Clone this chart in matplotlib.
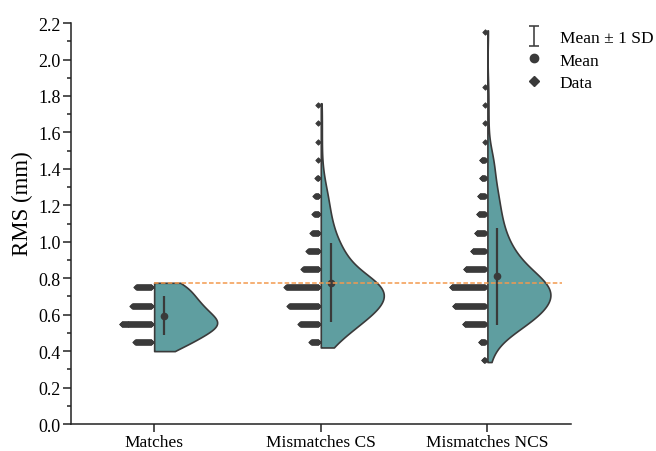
import numpy as np
import matplotlib.pyplot as plt
from matplotlib.lines import Line2D
from matplotlib.path import Path
from matplotlib.ticker import AutoMinorLocator, FormatStrFormatter

plt.rcParams['font.family'] = ['Liberation Serif', 'DejaVu Serif']

# categories
groups = ['Matches', 'Mismatches CS', 'Mismatches NCS']

# binned data points (bin centre, count) per group
bins_matches = [0.45, 0.55, 0.65, 0.75]
counts_matches = [33, 61, 39, 31]

bins_cs = [0.45, 0.55, 0.65, 0.75, 0.85, 0.95, 1.05, 1.15, 1.25, 1.35, 1.45, 1.55, 1.65, 1.75]
counts_cs = [15, 37, 59, 65, 31, 21, 13, 9, 7, 3, 1, 1, 1, 1]

bins_ncs = [0.35, 0.45, 0.55, 0.65, 0.75, 0.85, 0.95, 1.05, 1.15, 1.25, 1.35, 1.45,
            1.55, 1.65, 1.75, 1.85, 1.95, 2.05, 2.15]
counts_ncs = [3, 9, 41, 61, 67, 39, 25, 17, 13, 11, 7, 7, 1, 1, 1, 1, 0, 0, 1]

# data range (min / max) of each group
data_min = [0.40, 0.42, 0.34]
data_max = [0.775, 1.76, 2.16]

# summary statistics
means = [0.595, 0.775, 0.81]
sds = [0.105, 0.216, 0.265]

threshold = 0.775

all_bins = [bins_matches, bins_cs, bins_ncs]
all_counts = [counts_matches, counts_cs, counts_ncs]
bandwidths = [0.06, 0.075, 0.08]

teal = '#5F9EA0'
dark = '#3a3a3a'

fig = plt.figure(figsize=(6.56, 4.52), dpi=100)
ax = fig.add_axes([0.108, 0.0597, 0.762, 0.887])

half_w = 0.378
step = 0.003

for i, g in enumerate(groups):
    pos = i + 1
    b = np.array(all_bins[i])
    c = np.array(all_counts[i])

    # data points stacked to the left
    for yb, n in zip(b, c):
        if n == 0:
            continue
        xs = pos - 0.016 - np.arange(n) * step
        ax.plot(xs, np.full(n, yb), 'D', ms=2.8, color=dark, mew=0.6, zorder=2)

    # half violin (gaussian kde)
    yy = np.linspace(data_min[i], data_max[i], 300)
    dens = np.zeros_like(yy)
    for yb, n in zip(b, c):
        dens += n * np.exp(-0.5 * ((yy - yb) / bandwidths[i]) ** 2)
    w = half_w * dens / dens.max()
    ax.fill_betweenx(yy, pos, pos + w, facecolor=teal, edgecolor=dark, lw=1.2, zorder=3)

    # mean +/- sd
    xm = pos + 0.06
    ax.vlines(xm, means[i] - sds[i], means[i] + sds[i], color=dark, lw=1.6, zorder=4)
    ax.plot(xm, means[i], 'o', ms=4.5, color=dark, zorder=5)

ax.plot([1, 3.45], [threshold, threshold], color='#F39A4E', lw=1.1, dashes=(3, 1.5), zorder=6)

ax.set_xlim(0.5, 3.5)
ax.set_ylim(0, 2.2)
ax.set_xticks([1, 2, 3])
ax.set_xticklabels(groups, fontsize=12.5)
ax.set_yticks(np.arange(0, 2.21, 0.2))
ax.yaxis.set_major_formatter(FormatStrFormatter('%.1f'))
ax.yaxis.set_minor_locator(AutoMinorLocator(2))
ax.tick_params(axis='both', which='major', direction='out', length=6, width=1.1,
               labelsize=13, pad=1.5, color='#222222')
ax.tick_params(axis='x', labelsize=12.5)
ax.tick_params(axis='y', which='minor', direction='out', length=3, width=1.1, color='#222222')
for s in ['top', 'right']:
    ax.spines[s].set_visible(False)
for s in ['left', 'bottom']:
    ax.spines[s].set_linewidth(1.1)
    ax.spines[s].set_color('#222222')

ax.set_ylabel('RMS (mm)', fontsize=16.5)
ax.yaxis.set_label_coords(-0.075, 0.551)

ibeam = Path([(-0.5, -1), (0.5, -1), (0, -1), (0, 1), (-0.5, 1), (0.5, 1)],
             [Path.MOVETO, Path.LINETO, Path.MOVETO, Path.LINETO, Path.MOVETO, Path.LINETO])
handles = [
    Line2D([], [], marker=ibeam, ls='none', ms=14, color='#444444', mew=1.2, fillstyle='none'),
    Line2D([], [], marker='o', ls='none', ms=6, color=dark),
    Line2D([], [], marker='D', ls='none', ms=5, color=dark),
]
labels = ['Mean \u00b1 1 SD', 'Mean', 'Data']
fig.legend(handles, labels, loc='upper left', bbox_to_anchor=(525 / 656, 1 - 31 / 452),
           frameon=False, fontsize=12.5, handlelength=1.0, handletextpad=1.0,
           labelspacing=0.36, borderpad=0, borderaxespad=0)

fig.savefig('out.png', dpi=100)
